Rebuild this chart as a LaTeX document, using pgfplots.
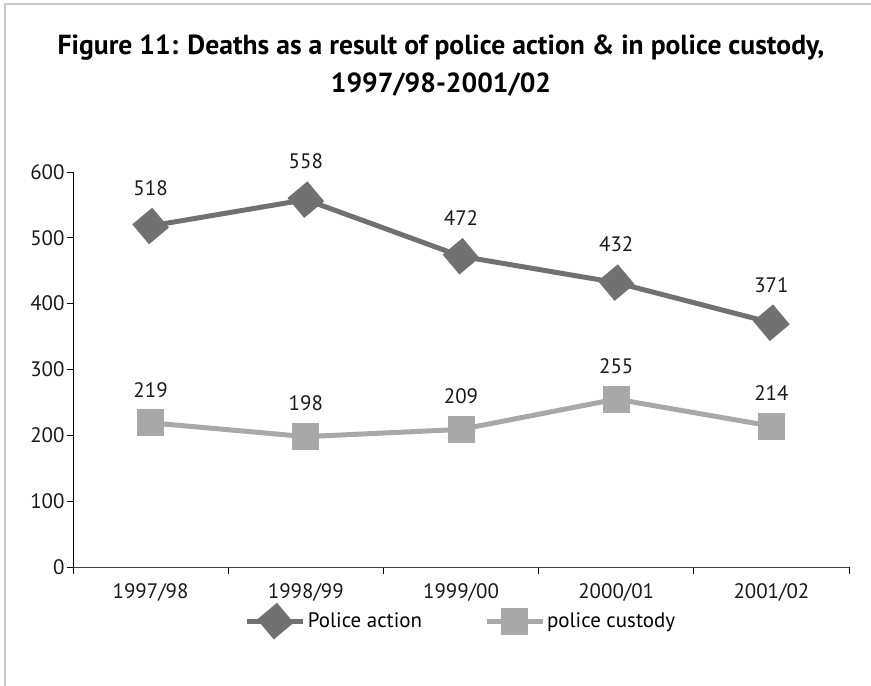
\documentclass[border=0pt]{standalone}
\usepackage{fontspec}
\setmainfont{PT Sans}
\usepackage{pgfplots}
\pgfplotsset{compat=1.18}
\definecolor{actiongray}{HTML}{717171}
\definecolor{custodygray}{HTML}{A8A8A8}

\begin{document}
\begin{tikzpicture}[x=1bp,y=1bp]
\useasboundingbox (0,0) rectangle (871,686);
\draw[black!22, line width=1.5bp] (5,0) -- (5,682) -- (871,682);
\node[font=\bfseries\fontsize{27.7}{38}\selectfont, align=center] at (441,620)
  {Figure 11: Deaths as a result of police action \& in police custody,\\1997/98-2001/02};
\begin{axis}[at={(73bp,119bp)}, anchor=south west, scale only axis,
  width=776bp, height=395bp,
  xmin=0.5, xmax=5.5, ymin=0, ymax=600,
  axis x line=bottom, axis y line=left, axis line style={-, line width=0.9bp},
  x axis line style={black!75},
  xtick={1,2,3,4,5}, xticklabels={1997/98,1998/99,1999/00,2000/01,2001/02},
  minor xtick={0.5,1.5,2.5,3.5,4.5,5.5},
  ytick={0,100,...,600},
  tick align=outside, major tick length=6bp, minor tick length=7bp,
  x tick style={draw=none}, minor x tick style={draw=black, line width=0.9bp},
  y tick style={black, line width=0.9bp},
  /pgf/number format/assume math mode=true,
  tick label style={font=\fontsize{21}{24}\selectfont, text=black!90},
  yticklabel style={xshift=1bp},
  xticklabel style={yshift=-7bp},
  nodes near coords, point meta=explicit symbolic,
  every node near coord/.append style={font=\fontsize{21}{24}\selectfont, text=black!90, anchor=center},
  legend columns=2,
  legend style={at={(0.5,-0.137)}, anchor=center, draw=none, fill=none,
    font=\fontsize{21}{24}\selectfont,
    /tikz/every even column/.append style={column sep=60bp}},
  legend image code/.code={\draw[mark repeat=2, mark phase=2]
    plot coordinates {(0bp,0bp) (28bp,0bp) (56bp,0bp)};},
  clip=false,
]
\addplot[actiongray, line width=5bp, mark=square*, mark size=10.5bp,
  mark options={rotate=40, solid, fill=actiongray, draw=none},
  every node near coord/.append style={yshift=38bp}]
  coordinates {(1,518)[518] (2,558)[558] (3,472)[472] (4,432)[432] (5,371)[371]};
\addplot[custodygray, line width=5bp, mark=square*, mark size=11bp,
  mark options={solid, fill=custodygray, draw=none},
  every node near coord/.append style={yshift=33bp}]
  coordinates {(1,219)[219] (2,198)[198] (3,209)[209] (4,255)[255] (5,214)[214]};
\legend{Police action, police custody}
\end{axis}
\end{tikzpicture}
\end{document}
